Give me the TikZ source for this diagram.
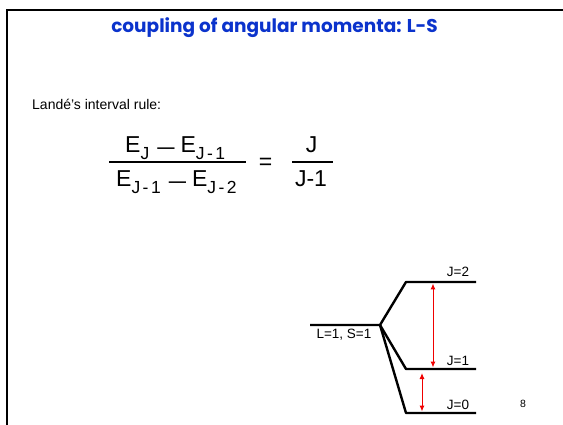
\documentclass[tikz,border=0pt]{standalone}
\usepackage{fontspec}
\setmainfont{Liberation Sans}
\newfontfamily\titlefont{Poppins}
\newfontfamily\subfont[LetterSpace=14]{Liberation Sans}
\usetikzlibrary{arrows.meta}
\definecolor{titleblue}{HTML}{0B33CC}
\definecolor{gapred}{HTML}{F00000}
\newcommand\lsub[1]{\raisebox{-0.3em}{\subfont\fontsize{17.5}{19}\selectfont #1}}
\newcommand\ldash{\hspace{8pt}\raisebox{-1.5pt}{\scalebox{1.35}[1]{–}}\hspace{6pt}}

\begin{document}
\begin{tikzpicture}[
  every node/.style={inner sep=0pt},
  title/.style={font=\titlefont\bfseries\fontsize{18.5}{22}\selectfont, text=titleblue, anchor=base},
  plain/.style={font=\fontsize{14}{16}\selectfont, anchor=west},
  eqn/.style={font=\fontsize{23}{27}\selectfont, anchor=base west},
  eqnc/.style={font=\fontsize{23}{27}\selectfont, anchor=base},
  fracbar/.style={line width=1.4pt},
  levelline/.style={line width=2.4pt, line join=round},
  lvllabel/.style={font=\fontsize{13.5}{16}\selectfont},
  gap/.style={gapred, line width=1pt, {Latex[length=6pt,width=5pt]}-{Latex[length=6pt,width=5pt]}},
  x=1pt, y=-1pt
]
  \useasboundingbox (0,0) rectangle (563,425);
  \draw[line width=2pt] (6.5,425) -- (6.5,10.5) -- (563,10.5);

  \node[title] (head) at (274.5,33) {coupling of angular momenta: L-S};
  \node[plain] (rule) at (32,104) {Landé’s interval rule:};

  \node[eqn] (lhsnum) at (125,153) {E\lsub{J}\ldash E\lsub{J-1}};
  \node[eqn] (lhsden) at (116,187) {E\lsub{J-1}\ldash E\lsub{J-2}};
  \coordinate (lhsbarL) at (109,162);
  \coordinate (lhsbarR) at (246,162);
  \draw[fracbar] (lhsbarL) -- (lhsbarR);
  \node[eqnc] (equals) at (265.5,169.5) {=};
  \node[eqnc] (rhsnum) at (311.5,153) {J};
  \node[eqnc] (rhsden) at (311,187) {J-1};
  \coordinate (rhsbarL) at (292,162);
  \coordinate (rhsbarR) at (333,162);
  \draw[fracbar] (rhsbarL) -- (rhsbarR);

  \coordinate (LS-l) at (310,325);
  \coordinate (LS-r) at (380,325);
  \coordinate (J2-l) at (406,282);
  \coordinate (J2-r) at (476,282);
  \coordinate (J1-l) at (406,369);
  \coordinate (J1-r) at (476,369);
  \coordinate (J0-l) at (406,413);
  \coordinate (J0-r) at (476,413);
  \draw[levelline] (LS-l) -- (LS-r) -- (J2-l) -- (J2-r);
  \draw[levelline] (LS-r) -- (J1-l) -- (J1-r);
  \draw[levelline] (LS-r) -- (J0-l) -- (J0-r);

  \node[lvllabel] (LS-txt) at (344,335) {L=1, S=1};
  \node[lvllabel] (J2-txt) at (458,272) {J=2};
  \node[lvllabel] (J1-txt) at (458,361) {J=1};
  \node[lvllabel] (J0-txt) at (458,405) {J=0};

  \coordinate (gap21-t) at (433,283.5);
  \coordinate (gap21-b) at (433,367.5);
  \coordinate (gap10-t) at (422,373);
  \coordinate (gap10-b) at (422,411.5);
  \draw[gap] (gap21-t) -- (gap21-b);
  \draw[gap] (gap10-t) -- (gap10-b);

  \node[font=\fontsize{10.5}{12}\selectfont] (page) at (523,404) {8};
\end{tikzpicture}
\end{document}
